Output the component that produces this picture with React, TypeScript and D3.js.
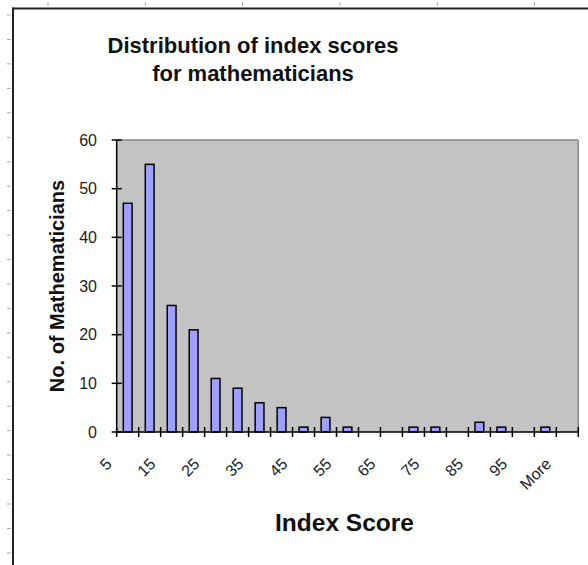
import React from "react";
import * as d3 from "d3";

const categories = ["5","10","15","20","25","30","35","40","45","50","55","60","65","70","75","80","85","90","95","100","More"];
const counts = [47,55,26,21,11,9,6,5,1,3,1,0,0,1,1,0,2,1,0,1,0];
const yTicks = [0,10,20,30,40,50,60];
const titleLines = ["Distribution of index scores", "for mathematicians"];
const xTitle = "Index Score";
const yTitle = "No. of Mathematicians";

const W = 588, H = 565;
const plot = { left: 116.7, right: 578.3, top: 140, bottom: 432 };
const FONT = "'Liberation Sans', Arial, Helvetica, sans-serif";

export default function App() {
  const x = d3.scaleBand<string>().domain(categories).range([plot.left, plot.right]).paddingInner(0).paddingOuter(0);
  const y = d3.scaleLinear().domain([0, 60]).range([plot.bottom, plot.top]);
  const step = x.step();
  const barW = step / 2.5;

  const boundaries = d3.range(categories.length + 1).map(i => plot.left + i * step);
  const rulerTop = d3.range(6).map(k => 48 + 97.3 * k);
  const rulerLeft = d3.range(23).map(k => 15 + 24.45 * k);

  return (
    <svg width={W} height={H} style={{ position: "absolute", left: 0, top: 0, background: "#fff" }} fontFamily={FONT}>
      {/* page ruler marks */}
      {rulerTop.map((rx, i) => (
        <line key={"rt" + i} x1={rx} x2={rx} y1={2} y2={6} stroke="#aaa" strokeWidth={1} />
      ))}
      {rulerLeft.map((ry, i) => (
        <line key={"rl" + i} x1={7} x2={11} y1={ry} y2={ry} stroke="#aaa" strokeWidth={1} />
      ))}
      {/* chart frame */}
      <line x1={12} x2={W} y1={8.5} y2={8.5} stroke="#222" strokeWidth={2} />
      <line x1={13} x2={13} y1={7.5} y2={H} stroke="#222" strokeWidth={2} />

      {/* title */}
      <text x={253} y={53} textAnchor="middle" fontSize={22} fontWeight="bold" fill="#111">{titleLines[0]}</text>
      <text x={253} y={81} textAnchor="middle" fontSize={22} fontWeight="bold" fill="#111">{titleLines[1]}</text>

      {/* plot area */}
      <rect x={plot.left} y={plot.top} width={plot.right - plot.left} height={plot.bottom - plot.top} fill="#c3c3c3" />
      <line x1={plot.left} x2={plot.right} y1={plot.top} y2={plot.top} stroke="#8a8a8a" strokeWidth={1.5} />
      <line x1={plot.right} x2={plot.right} y1={plot.top} y2={plot.bottom} stroke="#8a8a8a" strokeWidth={1.5} />

      {/* bars */}
      {categories.map((c, i) => counts[i] > 0 ? (
        <rect key={c} x={(x(c) as number) + (step - barW) / 2} y={y(counts[i])} width={barW} height={y(0) - y(counts[i])}
          fill="#9f9fff" stroke="#000" strokeWidth={1.5} />
      ) : null)}

      {/* y axis */}
      <line x1={plot.left} x2={plot.left} y1={plot.top} y2={plot.bottom} stroke="#000" strokeWidth={1.5} />
      {yTicks.map(t => (
        <g key={"y" + t}>
          <line x1={plot.left - 5} x2={plot.left + 5} y1={y(t)} y2={y(t)} stroke="#000" strokeWidth={1.5} />
          <text x={97} y={y(t) + 5.5} textAnchor="end" fontSize={16} fill="#222">{t}</text>
        </g>
      ))}

      {/* x axis */}
      <line x1={plot.left} x2={plot.right} y1={plot.bottom} y2={plot.bottom} stroke="#000" strokeWidth={1.5} />
      {boundaries.map((bx, i) => (
        <line key={"xt" + i} x1={bx} x2={bx} y1={plot.bottom - 5} y2={plot.bottom + 5} stroke="#000" strokeWidth={1.5} />
      ))}
      {categories.map((c, i) => i % 2 === 0 ? (
        <text key={"xl" + c} transform={`translate(${(x(c) as number) + step / 2 - 15},${465}) rotate(-45)`}
          textAnchor="end" fontSize={16} fill="#222">{c}</text>
      ) : null)}

      {/* axis titles */}
      <text x={344.5} y={530.5} textAnchor="middle" fontSize={24.5} fontWeight="bold" fill="#111">{xTitle}</text>
      <text transform={`translate(63.5,286) rotate(-90)`} textAnchor="middle" fontSize={20} fontWeight="bold" fill="#111">{yTitle}</text>
    </svg>
  );
}
